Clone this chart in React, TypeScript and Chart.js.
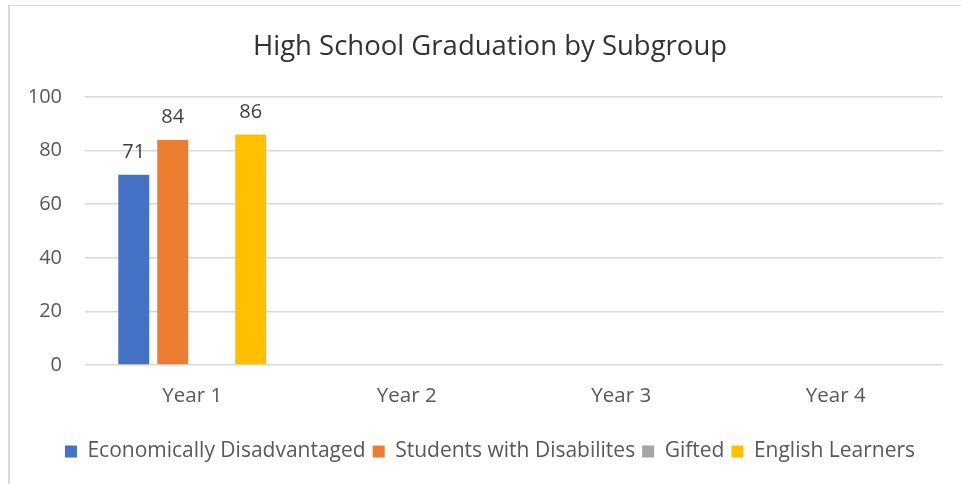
import React, { useEffect, useRef } from "react";
import { Chart, registerables } from "chart.js";

Chart.register(...registerables);

const categories = ["Year 1", "Year 2", "Year 3", "Year 4"];
const seriesNames = [
  "Economically Disadvantaged",
  "Students with Disabilites",
  "Gifted",
  "English Learners",
];
const economicallyDisadvantaged: (number | null)[] = [71, null, null, null];
const studentsWithDisabilities: (number | null)[] = [84, null, null, null];
const gifted: (number | null)[] = [null, null, null, null];
const englishLearners: (number | null)[] = [86, null, null, null];
const yTicks = [0, 20, 40, 60, 80, 100];

const colors = ["#4472C4", "#ED7D31", "#A5A5A5", "#FFC000"];
const FONT = "'Open Sans', 'Noto Sans', sans-serif";

const dataLabels = {
  id: "dataLabels",
  afterDatasetsDraw(chart: any) {
    const ctx = chart.ctx;
    ctx.save();
    ctx.font = `20px ${FONT}`;
    ctx.fillStyle = "#404040";
    ctx.textAlign = "center";
    ctx.textBaseline = "alphabetic";
    chart.data.datasets.forEach((ds: any, i: number) => {
      const meta = chart.getDatasetMeta(i);
      meta.data.forEach((el: any, j: number) => {
        const v = ds.data[j];
        if (v === null || v === undefined) return;
        ctx.fillText(String(v), el.x, el.y - 17);
      });
    });
    ctx.restore();
  },
};

export default function App() {
  const ref = useRef<HTMLCanvasElement | null>(null);
  useEffect(() => {
    if (!ref.current) return;
    const chart = new Chart(ref.current, {
      type: "bar",
      data: {
        labels: categories,
        datasets: [
          economicallyDisadvantaged,
          studentsWithDisabilities,
          gifted,
          englishLearners,
        ].map((d, i) => ({
          label: seriesNames[i],
          data: d,
          backgroundColor: colors[i],
          borderWidth: 0,
          categoryPercentage: 0.727,
          barPercentage: 0.795,
          yAxisID: "y",
        })),
      },
      options: {
        animation: false,
        responsive: false,
        maintainAspectRatio: false,
        layout: { padding: { left: 19, right: 0, top: 0, bottom: 12 } },
        plugins: {
          title: {
            display: true,
            text: "High School Graduation by Subgroup",
            color: "#333333",
            font: { family: FONT, size: 27.5, weight: "normal" },
            padding: { top: 31, bottom: 33 },
          },
          legend: {
            position: "bottom",
            labels: {
              boxWidth: 12,
              boxHeight: 12,
              padding: 7,
              color: "#595959",
              font: { family: FONT, size: 21 },
            },
          },
          tooltip: { enabled: false },
        },
        scales: {
          x: {
            grid: { display: false, drawTicks: false },
            border: { display: false },
            ticks: {
              color: "#595959",
              font: { family: FONT, size: 20.5 },
              padding: 19,
            },
            afterFit: (s: any) => {
              s.height = 69;
            },
          },
          y: {
            min: 0,
            max: 100,
            afterBuildTicks: (s: any) => {
              s.ticks = yTicks.map((v) => ({ value: v }));
            },
            grid: { color: "#d9d9d9", lineWidth: 1.5, drawTicks: false },
            border: { display: false },
            ticks: {
              color: "#595959",
              font: { family: FONT, size: 20 },
              padding: 23,
            },
            afterFit: (s: any) => {
              s.width = 66;
            },
          },
          spacer: {
            type: "linear",
            position: "right",
            min: 0,
            max: 100,
            grid: { display: false, drawTicks: false },
            border: { display: false },
            ticks: { display: false },
            afterFit: (s: any) => {
              s.width = 18;
            },
          },
        },
      },
      plugins: [dataLabels],
    });
    return () => chart.destroy();
  }, []);
  return (
    <div style={{ position: "absolute", left: 0, top: 0, width: 961, height: 484, background: "#fff" }}>
      <canvas ref={ref} width={961} height={484} style={{ position: "absolute", left: 0, top: 0 }} />
      <div
        style={{
          position: "absolute",
          left: 8,
          top: 5,
          width: 953,
          height: 479,
          borderLeft: "2px solid #d9d9d9",
          borderTop: "1px solid #d9d9d9",
          pointerEvents: "none",
        }}
      />
    </div>
  );
}
